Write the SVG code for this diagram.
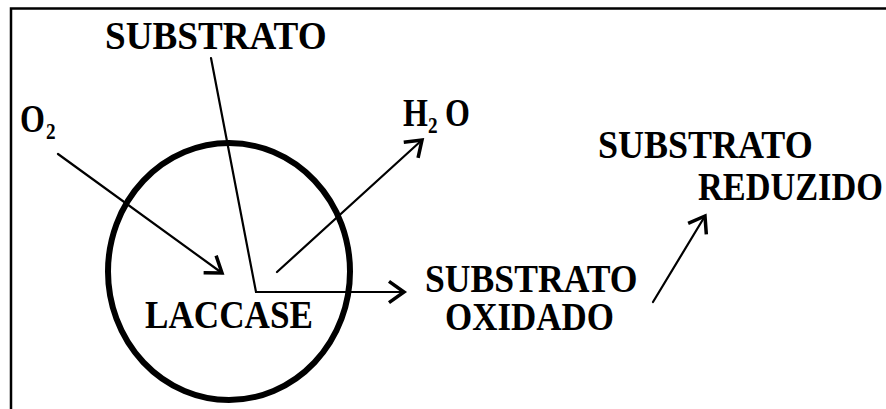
<svg xmlns="http://www.w3.org/2000/svg" width="886" height="409" viewBox="0 0 886 409">
<style>
.t{font-family:"Liberation Serif","Times New Roman",serif;font-weight:bold;font-size:40px;fill:#000}
.s{font-size:24px}
.ln{fill:none;stroke:#000;stroke-width:2.2;stroke-linecap:round;stroke-linejoin:miter}
</style>
<defs>
<marker id="ah" markerUnits="userSpaceOnUse" orient="auto" markerWidth="30" markerHeight="30" refX="0" refY="0" viewBox="-16 -12 20 24" overflow="visible">
<path d="M-12,-8.5 L0,0 L-12,8.5" fill="none" stroke="#000" stroke-width="2.8" stroke-linejoin="miter"/>
</marker>
</defs>
<rect width="886" height="409" fill="#fff"/>
<g id="frame">
<path d="M11,409 V8.5 H886" fill="none" stroke="#000" stroke-width="2.5"/>
</g>
<g id="laccase">
<ellipse cx="229" cy="271.5" rx="121" ry="128.5" fill="none" stroke="#000" stroke-width="6"/>
<text class="t" transform="translate(145,328) scale(0.879,1)">LACCASE</text>
</g>
<g id="substrato">
<text class="t" transform="translate(105,49) scale(0.929,1)">SUBSTRATO</text>
</g>
<g id="o2">
<text class="t" transform="translate(20,132) scale(0.8,1)">O<tspan class="s" x="32.5" dy="7">2</tspan></text>
</g>
<g id="h2o">
<text class="t" transform="translate(403,126) scale(0.8,1)">H<tspan class="s" x="31.25" dy="7">2</tspan><tspan x="52.5" dy="-7">O</tspan></text>
</g>
<g id="substrato-oxidado">
<text class="t" transform="translate(425,292) scale(0.891,1)">SUBSTRATO</text>
<text class="t" transform="translate(445,330) scale(0.874,1)">OXIDADO</text>
</g>
<g id="substrato-reduzido">
<text class="t" transform="translate(598,158) scale(0.9,1)">SUBSTRATO</text>
<text class="t" transform="translate(698,200) scale(0.858,1)">REDUZIDO</text>
</g>
<g id="connectors">
<line class="ln" x1="58" y1="154" x2="222" y2="273" marker-end="url(#ah)"/>
<polyline class="ln" points="211,58 256,292 404,292" marker-end="url(#ah)"/>
<line class="ln" x1="277" y1="272" x2="422" y2="140" marker-end="url(#ah)"/>
<line class="ln" x1="653" y1="302" x2="705" y2="216" marker-end="url(#ah)"/>
</g>
</svg>
